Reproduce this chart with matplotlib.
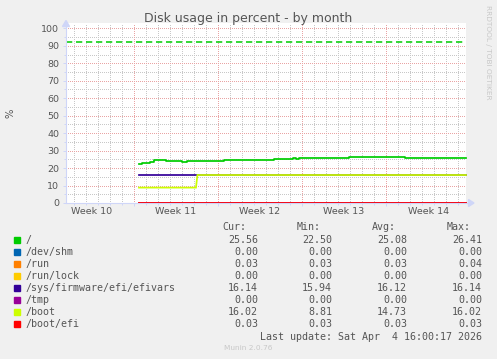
import matplotlib
matplotlib.use('Agg')
import matplotlib.pyplot as plt
from matplotlib.patches import Polygon, Rectangle
from matplotlib.lines import Line2D
from matplotlib.ticker import FixedLocator, NullFormatter

plt.rcParams['lines.scale_dashes'] = False

W, H, DPI = 497, 359, 100

# ---------------- data ----------------
title = "Disk usage in percent - by month"
ylabel = "%"
week_labels = ["Week 10", "Week 11", "Week 12", "Week 13", "Week 14"]
week_starts = [-1.33, 5.67, 12.67, 19.67, 26.67, 33.67]   # days from left edge
x_range = (0, 33.33)
y_major = list(range(0, 101, 10))
y_minor = list(range(5, 101, 10))
warning_level = 92

series_names = ["/", "/dev/shm", "/run", "/run/lock", "/sys/firmware/efi/efivars",
                "/tmp", "/boot", "/boot/efi"]
series_colors = ["#00CC00", "#0066B3", "#FF8000", "#FFCC00", "#330099",
                 "#990099", "#CCFF00", "#FF0000"]

root_x = [6.08, 6.33, 7.0, 7.33, 8.33, 9.67, 10.08, 13.17, 17.33, 18.92, 19.17,
          19.42, 23.08, 23.33, 23.58, 28.25, 33.33]
root_y = [22.50, 22.8, 23.3, 24.5, 24.2, 23.6, 24.1, 24.7, 25.1, 25.5, 25.1,
          25.5, 26.0, 25.6, 26.41, 25.56, 25.56]
shm_x, shm_y = [6.08, 33.33], [0.00, 0.00]
run_x, run_y = [6.08, 33.33], [0.03, 0.03]
lock_x, lock_y = [6.08, 33.33], [0.00, 0.00]
efivars_x, efivars_y = [6.08, 6.5, 33.33], [15.94, 16.14, 16.14]
tmp_x, tmp_y = [6.08, 33.33], [0.00, 0.00]
boot_x, boot_y = [6.08, 10.83, 10.95, 33.33], [8.81, 8.81, 16.02, 16.02]
bootefi_x, bootefi_y = [6.08, 33.33], [0.03, 0.03]

cur_vals = [25.56, 0.00, 0.03, 0.00, 16.14, 0.00, 16.02, 0.03]
min_vals = [22.50, 0.00, 0.03, 0.00, 15.94, 0.00, 8.81, 0.03]
avg_vals = [25.08, 0.00, 0.03, 0.00, 16.12, 0.00, 14.73, 0.03]
max_vals = [26.41, 0.00, 0.04, 0.00, 16.14, 0.00, 16.02, 0.03]

last_update = "Last update: Sat Apr  4 16:00:17 2026"
footer = "Munin 2.0.76"
side_text = "RRDTOOL / TOBI OETIKER"

# ---------------- styling ----------------
BG = "#F0F0F0"
AXIS = "#CFD6F8"
TXT = "#555555"
MGRID = "#E9A4A4"
GRID = "#C8C8C8"
SANS = "DejaVu Sans"
MONO = "DejaVu Sans Mono"

fig = plt.figure(figsize=(W / DPI, H / DPI), dpi=DPI, facecolor=BG)

def fx(px):
    return px / W

def fy(py):
    return 1 - py / H

# plot area in pixels
L, R, T, B = 66, 466, 23, 203
ax = fig.add_axes([fx(L), fy(B), (R - L) / W, (B - T) / H])
ax.set_facecolor("white")
ax.set_xlim(*x_range)
ymax = (B - T) / ((B - 28.3) / 100.0)
ax.set_ylim(0, ymax)

for s in ax.spines.values():
    s.set_visible(False)

dot = (0.72, 1.44)
gkw = dict(lw=0.72, dashes=dot, antialiased=False)
# grid lines
days = [week_starts[0] + k for k in range(0, 36)]
for d in days:
    if x_range[0] < d < x_range[1]:
        ax.axvline(d, color=GRID, zorder=1, **gkw)
for ys in y_minor:
    ax.axhline(ys, color=GRID, zorder=1, **gkw)
for ws in week_starts:
    if x_range[0] < ws < x_range[1]:
        ax.axvline(ws, color=MGRID, zorder=2, **gkw)
for ys in y_major[1:]:
    ax.axhline(ys, color=MGRID, zorder=2, **gkw)

# ticks
ax.xaxis.set_major_locator(FixedLocator([w for w in week_starts if x_range[0] < w < x_range[1]]))
ax.xaxis.set_minor_locator(FixedLocator([d for d in days if x_range[0] < d < x_range[1]]))
ax.xaxis.set_major_formatter(NullFormatter())
ax.yaxis.set_major_locator(FixedLocator(y_major))
ax.yaxis.set_minor_locator(FixedLocator(y_minor))
ax.set_yticklabels([str(v) for v in y_major])
ax.tick_params(axis='both', which='both', color=AXIS, width=0.72)
ax.tick_params(axis='y', which='major', length=2, pad=3, labelsize=6.8, labelcolor=TXT)
ax.tick_params(axis='y', which='minor', length=1.5)
ax.tick_params(axis='x', which='major', length=2)
ax.tick_params(axis='x', which='minor', length=1.2)
for lab in ax.get_yticklabels():
    lab.set_fontfamily(SANS)

# week labels at week centres
for i, lab in enumerate(week_labels):
    c = (week_starts[i] + week_starts[i + 1]) / 2
    ax.text(c, -0.05, lab, transform=ax.get_xaxis_transform(), ha='center', va='center',
            fontsize=6.8, color=TXT, family=SANS)

# axes lines + arrows (figure coords)
fig.add_artist(Line2D([fx(L), fx(L)], [fy(B), fy(T + 2)], color=AXIS, lw=0.8))
fig.add_artist(Line2D([fx(L), fx(469)], [fy(B), fy(B)], color=AXIS, lw=0.8))
fig.add_artist(Polygon([[fx(468.5), fy(B - 3.5)], [fx(468.5), fy(B + 3.5)], [fx(474), fy(B)]],
                       closed=True, color=AXIS, transform=fig.transFigure))
fig.add_artist(Polygon([[fx(L - 3.5), fy(26.5)], [fx(L + 3.5), fy(26.5)], [fx(L), fy(20.5)]],
                       closed=True, color=AXIS, transform=fig.transFigure))

# warning line
ax.axhline(warning_level, color="#00CC00", lw=1.1, dashes=(4.5, 2.7), zorder=3)

# data
xs = [root_x, shm_x, run_x, lock_x, efivars_x, tmp_x, boot_x, bootefi_x]
ys = [root_y, shm_y, run_y, lock_y, efivars_y, tmp_y, boot_y, bootefi_y]
for i, (x, y) in enumerate(zip(xs, ys)):
    if i == 6:
        ax.plot(x, y, color=series_colors[i], lw=1.25, zorder=4 + i,
                solid_joinstyle='miter', clip_on=False)
    else:
        ax.step(x, y, where='post', color=series_colors[i], lw=1.25, zorder=4 + i,
                clip_on=False)

# texts
fig.text(fx(248), fy(18.5), title, ha='center', va='center', fontsize=9, color=TXT, family=SANS)
fig.text(fx(10), fy(113), ylabel, ha='center', va='center', rotation=90, fontsize=7.2,
         color=TXT, family=SANS)
fig.text(fx(488), fy(5), side_text, ha='center', va='top', rotation=270, fontsize=5.3,
         color="#C8C8C8", family=SANS)

# legend
hdr_y = 227
for lab, xr in zip(["Cur:", "Min:", "Avg:", "Max:"], [246, 321, 396, 471]):
    fig.text(fx(xr), fy(hdr_y), lab, ha='right', va='center', fontsize=7.2, color=TXT, family=MONO)
for i, name in enumerate(series_names):
    yy = 240 + 12 * i
    fig.add_artist(Rectangle((fx(14), fy(yy + 3)), 6 / W, 6 / H, color=series_colors[i],
                             transform=fig.transFigure))
    fig.text(fx(26), fy(yy), name, ha='left', va='center', fontsize=7.2, color=TXT, family=MONO)
    for vals, xr in zip([cur_vals, min_vals, avg_vals, max_vals], [258, 332, 407, 482]):
        fig.text(fx(xr), fy(yy), f"{vals[i]:.2f}", ha='right', va='center', fontsize=7.2,
                 color=TXT, family=MONO)

fig.text(fx(482), fy(336.5), last_update, ha='right', va='center', fontsize=7.2, color=TXT, family=MONO)
fig.text(fx(248), fy(348), footer, ha='center', va='center', fontsize=5.3, color="#C8C8C8", family=SANS)

fig.savefig("out.png", dpi=DPI, facecolor=BG)
